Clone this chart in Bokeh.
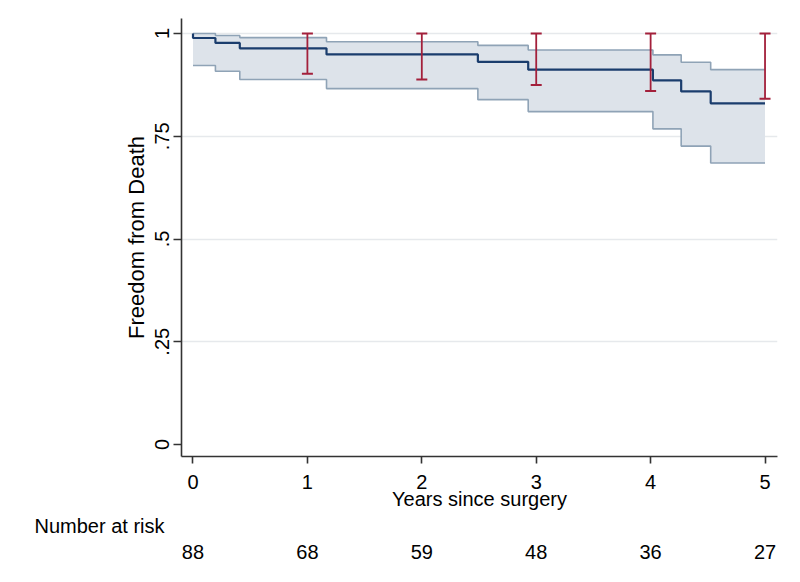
import numpy as np
from bokeh.plotting import figure
from bokeh.layouts import column
from bokeh.models import Range1d, FixedTicker
from bokeh.embed import file_html
from bokeh.resources import INLINE

# ---- data ----
km_times = [0, 0, 0.196, 0.409, 1.167, 2.49, 2.93, 4.02, 4.267, 4.525, 5.0]
km_survival = [1.0, 0.989, 0.977, 0.964, 0.949, 0.931, 0.912, 0.886, 0.859, 0.830, 0.830]

ci_times = [0, 0.196, 0.409, 1.167, 2.49, 2.93, 4.02, 4.267, 4.525, 5.0]
ci_upper = [1.0, 0.995, 0.990, 0.980, 0.971, 0.960, 0.948, 0.930, 0.912, 0.912]
ci_lower = [0.922, 0.908, 0.888, 0.866, 0.839, 0.810, 0.768, 0.726, 0.685, 0.685]

bar_times = [1, 2, 3, 4, 5]
bar_upper = [1.0, 1.0, 1.0, 1.0, 1.0]
bar_lower = [0.902, 0.888, 0.875, 0.860, 0.841]

risk_times = [0, 1, 2, 3, 4, 5]
at_risk = [88, 68, 59, 48, 36, 27]
risk_title = "Number at risk"

x_ticks = [0, 1, 2, 3, 4, 5]
y_ticks = [0, 0.25, 0.5, 0.75, 1]
y_tick_labels = ["0", ".25", ".5", ".75", "1"]

FONT = "Liberation Sans"

# ---- layout constants ----
W = 792
LEFT, RIGHT, TOP = 181, 15, 18
X0, X1 = -0.1005, 5.109
H_MAIN, H_RISK = 516, 58

xr = Range1d(X0, X1)
p = figure(width=W, height=H_MAIN, output_backend="svg", toolbar_location=None,
           x_range=xr, y_range=Range1d(-0.0292, 1.0365),
           min_border_left=LEFT, min_border_right=RIGHT, min_border_top=TOP,
           min_border_bottom=H_MAIN - TOP - 438)
p.outline_line_color = None
p.background_fill_color = "white"
p.border_fill_color = "white"

# confidence band (step fill)
t = np.array(ci_times, dtype=float)
xs = np.repeat(t, 2)[1:]
up_s = np.repeat(np.array(ci_upper), 2)[:-1]
lo_s = np.repeat(np.array(ci_lower), 2)[:-1]
p.varea(x=xs, y1=lo_s, y2=up_s, fill_color="#dde3ea", fill_alpha=1.0)
p.line(x=xs, y=up_s, line_color="#8fa3b6", line_width=1.6)
p.line(x=xs, y=lo_s, line_color="#8fa3b6", line_width=1.6)

# KM curve
p.step(x=km_times, y=km_survival, mode="after", line_color="#1a3d6d", line_width=2.2)

# error bars
ERR = "#a3203b"
p.segment(x0=bar_times, y0=bar_lower, x1=bar_times, y1=bar_upper,
          line_color=ERR, line_width=1.8)
p.scatter(x=bar_times, y=bar_upper, marker="dash", size=11, line_color=ERR, line_width=2)
p.scatter(x=bar_times, y=bar_lower, marker="dash", size=11, line_color=ERR, line_width=2)

# axes
for ax in (p.xaxis, p.yaxis):
    ax.axis_line_color = "#333333"
    ax.axis_line_width = 1.6
    ax.major_tick_line_color = "#333333"
    ax.major_tick_line_width = 1.6
    ax.minor_tick_line_color = None
    ax.major_tick_in = 0
    ax.major_label_text_font = FONT
    ax.major_label_text_font_size = "20px"
    ax.major_label_text_color = "black"
    ax.axis_label_text_font = FONT
    ax.axis_label_text_font_style = "normal"
    ax.axis_label_text_color = "black"

p.xaxis.ticker = FixedTicker(ticks=x_ticks)
p.xaxis.major_tick_out = 7
p.xaxis.major_label_standoff = 11
p.xaxis.axis_label = "Years since surgery"
p.xaxis.axis_label_text_font_size = "20px"
p.xaxis.axis_label_standoff = -4

p.yaxis.ticker = FixedTicker(ticks=y_ticks)
p.yaxis.major_label_overrides = {tk: lab for tk, lab in zip(y_ticks, y_tick_labels)}
p.yaxis.major_label_orientation = "vertical"
p.yaxis.major_tick_out = 8
p.yaxis.major_label_standoff = 4
p.yaxis.axis_label = "Freedom from Death"
p.yaxis.axis_label_text_font_size = "22px"
p.yaxis.axis_label_standoff = 4

p.xgrid.visible = False
p.ygrid.ticker = FixedTicker(ticks=[v for v in y_ticks if v > 0])
p.ygrid.grid_line_color = "#e6e9ec"
p.ygrid.grid_line_width = 1.4

# ---- number-at-risk table: shares the x scale of the main plot ----
R_FRAME = 18
r = figure(width=W, height=H_RISK, output_backend="svg", toolbar_location=None,
           x_range=xr, y_range=Range1d(0, 1),
           min_border_left=LEFT, min_border_right=RIGHT, min_border_top=0,
           min_border_bottom=H_RISK - R_FRAME)
r.grid.visible = False
r.outline_line_color = None
r.background_fill_color = "white"
r.border_fill_color = "white"

# row title: the table's y-axis label, written horizontally
r.yaxis.ticker = FixedTicker(ticks=[])
r.yaxis.axis_line_color = None
r.yaxis.major_tick_line_color = None
r.yaxis.minor_tick_line_color = None
r.yaxis.major_tick_out = 0
r.yaxis.major_tick_in = 0
r.yaxis.major_label_standoff = 0
r.yaxis.axis_label = risk_title
r.yaxis.axis_label_orientation = "horizontal"
r.yaxis.axis_label_standoff = 17
r.yaxis.axis_label_text_font = FONT
r.yaxis.axis_label_text_font_size = "20px"
r.yaxis.axis_label_text_font_style = "normal"
r.yaxis.axis_label_text_color = "black"

# counts: tick labels of the table's x axis at the risk times
r.xaxis.ticker = FixedTicker(ticks=risk_times)
r.xaxis.major_label_overrides = {tk: str(n) for tk, n in zip(risk_times, at_risk)}
r.xaxis.axis_line_color = None
r.xaxis.major_tick_line_color = None
r.xaxis.minor_tick_line_color = None
r.xaxis.major_tick_out = 0
r.xaxis.major_tick_in = 0
r.xaxis.major_label_standoff = 10
r.xaxis.major_label_text_font = FONT
r.xaxis.major_label_text_font_size = "20px"
r.xaxis.major_label_text_color = "black"

layout = column(p, r, spacing=0)
open("out.html", "w").write(file_html(layout, INLINE))
